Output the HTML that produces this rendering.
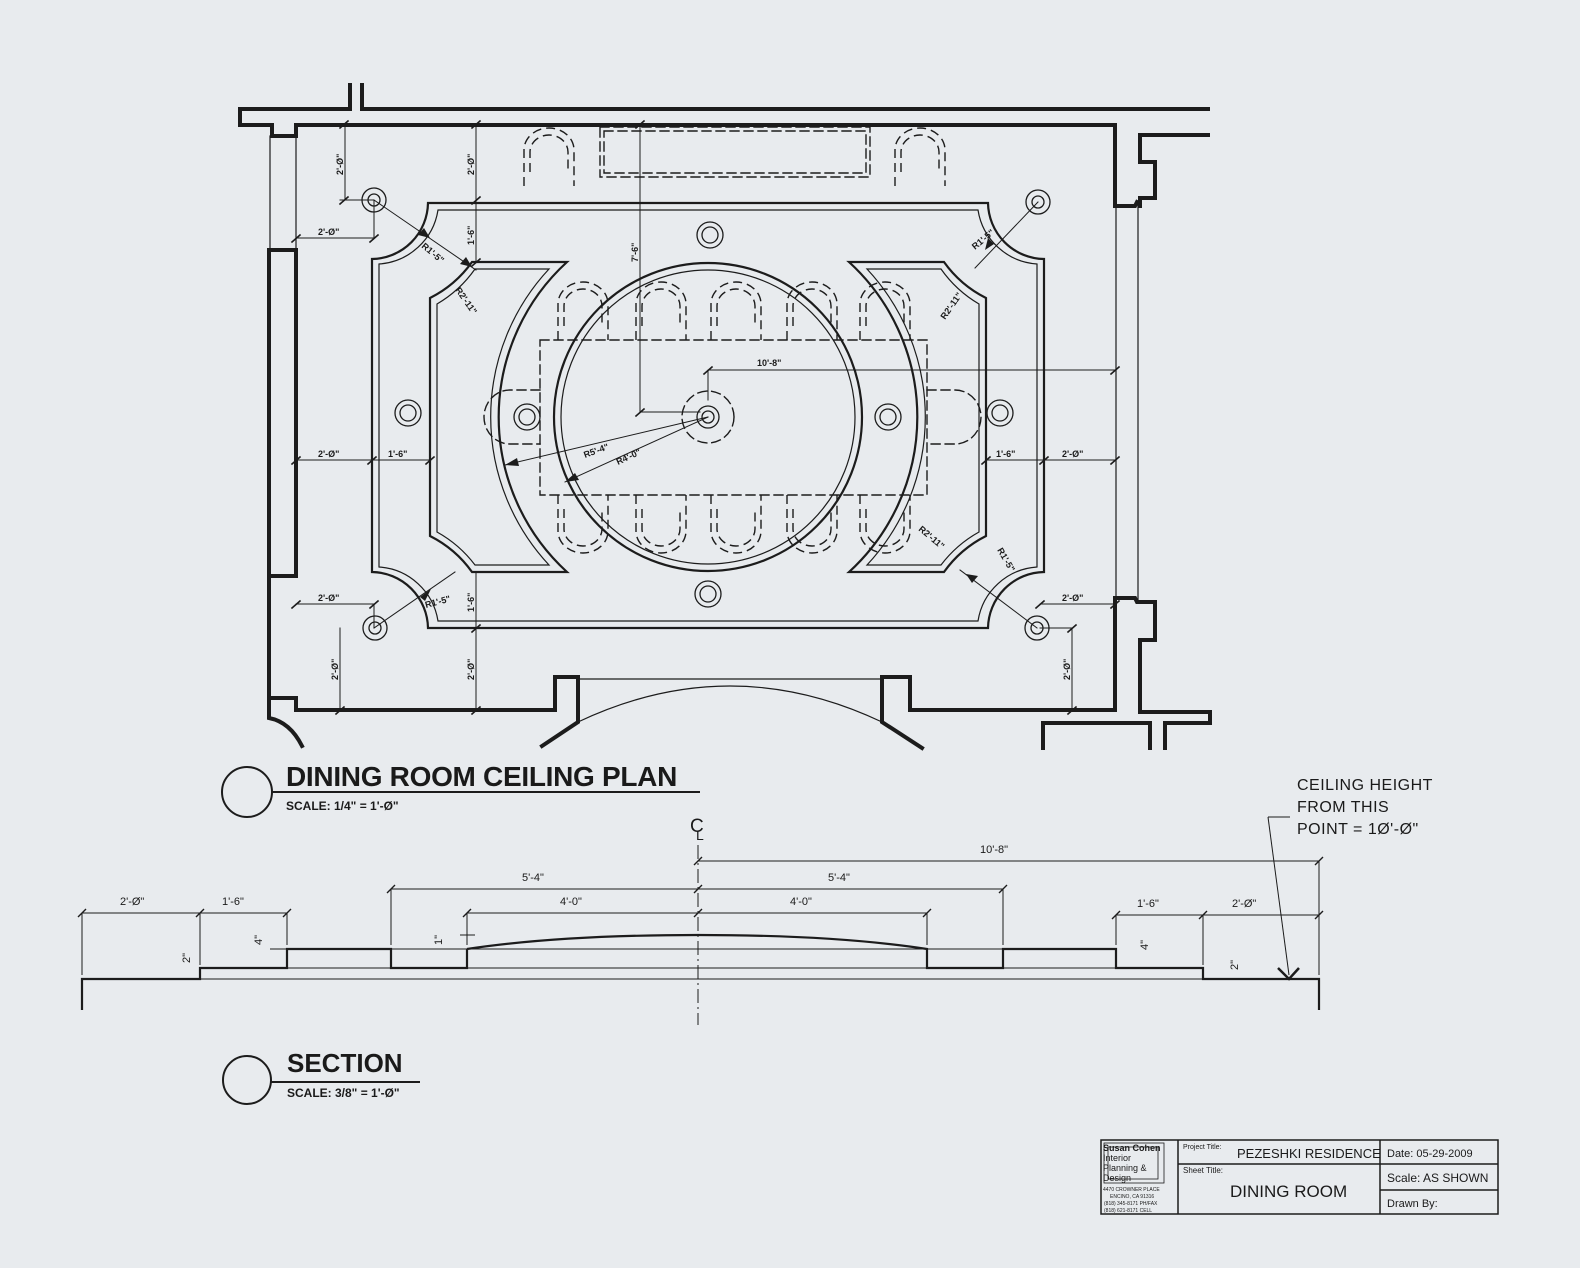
<!DOCTYPE html>
<html><head><meta charset="utf-8"><style>
html,body{margin:0;padding:0;background:#e8ebee;}
svg{display:block;}
text{font-family:"Liberation Sans",sans-serif;fill:#1a1a1a;}
.d{font-size:9px;font-weight:bold;}
</style></head><body>
<svg width="1580" height="1268" viewBox="0 0 1580 1268" xmlns="http://www.w3.org/2000/svg">
<defs>
<g id="chairT" fill="none" stroke="#1c1c1c" stroke-width="1.4" stroke-dasharray="9,5">
<path d="M-25,58 L-25,22 A25,22 0 0 1 25,22 L25,58"/>
<path d="M-19,44 L-19,24 A19,17 0 0 1 19,24 L19,44"/>
</g>
</defs>
<rect width="1580" height="1268" fill="#e8ebee"/>
<g fill="none" stroke="#1c1c1c" stroke-linecap="square">
<g stroke-width="4">
<polyline points="240,109 350,109 350,85"/>
<polyline points="362,85 362,109 1208,109"/>
<polyline points="240,109 240,125 272,125 272,136 296,136 296,125 1115,125 1115,206 1135,206 1137,202"/>
<polyline points="1208,135 1140,135 1140,162 1155,162 1155,198 1140,198 1140,206"/>
<rect x="269" y="250" width="27" height="326"/>
<polyline points="1115,708 1115,598 1135,598 1137,602 1155,602 1155,640 1140,640 1140,712 1210,712 1210,720"/>
<polyline points="1043,748 1043,723 1150,723 1150,748"/>
<polyline points="1165,748 1165,723 1210,723"/>
<polyline points="269,576 269,698 296,698 296,710 555,710 555,677 578,677 578,722 542,746"/>
<polyline points="1115,710 910,710 910,677 882,677 882,722 922,748"/>
<path d="M269,700 L269,718 Q290,722 302,746"/>
</g>
<g stroke-width="1.2">
<line x1="270" y1="136" x2="270" y2="250"/><line x1="296" y1="136" x2="296" y2="250"/>
<line x1="1116" y1="206" x2="1116" y2="598"/><line x1="1138" y1="202" x2="1138" y2="600"/>
<line x1="578" y1="679" x2="882" y2="679"/>
<path d="M578,722 Q730,650 882,722"/>
</g>
<g stroke-width="2.2">
<path d="M428,203 L988,203 A57,57 0 0 0 1044,259 L1044,572 A57,57 0 0 0 988,628 L428,628 A57,57 0 0 0 372,572 L372,259 A57,57 0 0 0 428,203 Z"/>
<g id="cres">
<path d="M430,298 A115,115 0 0 0 472,262 L567,262 A210,210 0 0 0 567,572 L472,572 A115,115 0 0 0 430,536 Z"/>
</g>
<use href="#cres" transform="translate(1416,0) scale(-1,1)"/>
<circle cx="708" cy="417" r="154"/>
</g>
<g stroke-width="1.2">
<path d="M438,210 L978,210 A64,64 0 0 0 1037,264 L1037,567 A64,64 0 0 0 978,621 L438,621 A64,64 0 0 0 379,567 L379,264 A64,64 0 0 0 438,210 Z"/>
<g id="cres2"><path d="M437,304 A122,122 0 0 0 475,269 L549,269 A217,217 0 0 0 549,565 L475,565 A122,122 0 0 0 437,532 Z"/></g>
<use href="#cres2" transform="translate(1416,0) scale(-1,1)"/>
<circle cx="708" cy="417" r="147"/>
</g>
<g stroke-width="1.4" stroke-dasharray="9,5">
<rect x="540" y="340" width="387" height="155"/>
<rect x="600" y="127" width="270" height="50"/>
<rect x="604" y="131" width="262" height="42"/>
<path d="M540,390 L510,390 A26,27 0 0 0 510,444 L540,444"/>
<path d="M927,390 L955,390 A26,27 0 0 1 955,444 L927,444"/>
<circle cx="708" cy="417" r="26"/>
</g>
<g stroke-width="1.3">
<circle cx="710" cy="235" r="13"/><circle cx="710" cy="235" r="8"/>
<circle cx="708" cy="594" r="13"/><circle cx="708" cy="594" r="8"/>
<circle cx="408" cy="413" r="13"/><circle cx="408" cy="413" r="8"/>
<circle cx="1000" cy="413" r="13"/><circle cx="1000" cy="413" r="8"/>
<circle cx="527" cy="417" r="13"/><circle cx="527" cy="417" r="8"/>
<circle cx="888" cy="417" r="13"/><circle cx="888" cy="417" r="8"/>
<circle cx="708" cy="417" r="11"/><circle cx="708" cy="417" r="6"/>
<circle cx="374" cy="200" r="12"/><circle cx="374" cy="200" r="6"/>
<circle cx="1038" cy="202" r="12"/><circle cx="1038" cy="202" r="6"/>
<circle cx="375" cy="628" r="12"/><circle cx="375" cy="628" r="6"/>
<circle cx="1037" cy="628" r="12"/><circle cx="1037" cy="628" r="6"/>
</g>
<g stroke-width="1">
<line x1="345" y1="125" x2="345" y2="200"/><line x1="340" y1="200" x2="374" y2="200"/>
<line x1="476" y1="125" x2="476" y2="262"/>
<line x1="640" y1="125" x2="640" y2="412"/><line x1="640" y1="412" x2="700" y2="412"/>
<line x1="296" y1="238" x2="374" y2="238"/><line x1="374" y1="200" x2="374" y2="238"/>
<line x1="708" y1="370" x2="1115" y2="370"/><line x1="708" y1="370" x2="708" y2="400"/>
<line x1="296" y1="460" x2="430" y2="460"/><line x1="986" y1="460" x2="1115" y2="460"/>
<line x1="296" y1="604" x2="374" y2="604"/><line x1="374" y1="604" x2="374" y2="628"/>
<line x1="340" y1="628" x2="340" y2="710"/><line x1="476" y1="572" x2="476" y2="710"/>
<line x1="1040" y1="604" x2="1115" y2="604"/><line x1="1040" y1="628" x2="1072" y2="628"/><line x1="1072" y1="628" x2="1072" y2="710"/>
<line x1="374" y1="200" x2="476" y2="270"/><line x1="374" y1="628" x2="455" y2="572"/>
<line x1="1038" y1="202" x2="975" y2="268"/><line x1="1037" y1="628" x2="960" y2="570"/>
<line x1="708" y1="417" x2="505" y2="465"/><line x1="708" y1="417" x2="565" y2="482"/>
</g>
<g stroke-width="1.6">
<path d="M340,128 l8,-7 M472,128 l8,-7 M636,128 l8,-7 M340,204 l8,-7 M472,204 l8,-7 M472,266 l8,-7 M636,416 l8,-7 M292,242 l8,-7 M370,242 l8,-7 M704,374 l8,-7 M1111,374 l8,-7 M292,464 l8,-7 M368,464 l8,-7 M426,464 l8,-7 M982,464 l8,-7 M1040,464 l8,-7 M1111,464 l8,-7 M292,608 l8,-7 M370,608 l8,-7 M336,714 l8,-7 M472,714 l8,-7 M472,632 l8,-7 M1036,608 l8,-7 M1111,608 l8,-7 M1068,632 l8,-7 M1068,714 l8,-7"/>
</g>
</g>
<use href="#chairT" x="583" y="282"/><use href="#chairT" x="661" y="282"/><use href="#chairT" x="736" y="282"/><use href="#chairT" x="812" y="282"/><use href="#chairT" x="885" y="282"/>
<g transform="translate(0,1035) scale(1,-1)">
<use href="#chairT" x="583" y="482"/><use href="#chairT" x="661" y="482"/><use href="#chairT" x="736" y="482"/><use href="#chairT" x="812" y="482"/><use href="#chairT" x="885" y="482"/>
</g>
<use href="#chairT" x="549" y="128"/><use href="#chairT" x="920" y="128"/>
<!-- arrowheads on radius leaders -->
<g fill="#1c1c1c">
<polygon points="430,238 418,235 424,228"/>
<polygon points="472,267 460,264 466,257"/>
<polygon points="431,589 420,597 425,601"/>
<polygon points="985,250 988,238 994,244"/>
<polygon points="966,574 978,576 972,583"/>
<polygon points="505,465 517,458 519,466"/>
<polygon points="565,482 575,473 579,480"/>
</g>
<g class="d">
<text transform="translate(343,175) rotate(-90)">2'-Ø"</text>
<text transform="translate(474,175) rotate(-90)">2'-Ø"</text>
<text transform="translate(474,245) rotate(-90)">1'-6"</text>
<text transform="translate(638,262) rotate(-90)">7'-6"</text>
<text x="318" y="235">2'-Ø"</text>
<text transform="translate(421,247) rotate(40)">R1'-5"</text>
<text transform="translate(455,290) rotate(55)">R2'-11"</text>
<text x="757" y="366">10'-8"</text>
<text transform="translate(585,458) rotate(-20)">R5'-4"</text>
<text transform="translate(618,465) rotate(-25)">R4'-0"</text>
<text x="318" y="457">2'-Ø"</text><text x="388" y="457">1'-6"</text>
<text x="996" y="457">1'-6"</text><text x="1062" y="457">2'-Ø"</text>
<text x="318" y="601">2'-Ø"</text>
<text transform="translate(426,608) rotate(-15)">R1'-5"</text>
<text transform="translate(474,612) rotate(-90)">1'-6"</text>
<text transform="translate(338,680) rotate(-90)">2'-Ø"</text>
<text transform="translate(474,680) rotate(-90)">2'-Ø"</text>
<text transform="translate(975,250) rotate(-40)">R1'-5"</text>
<text transform="translate(945,320) rotate(-55)">R2'-11"</text>
<text transform="translate(918,530) rotate(40)">R2'-11"</text>
<text transform="translate(997,550) rotate(60)">R1'-5"</text>
<text x="1062" y="601">2'-Ø"</text>
<text transform="translate(1070,680) rotate(-90)">2'-Ø"</text>
</g>
<circle cx="247" cy="792" r="25" fill="none" stroke="#1c1c1c" stroke-width="2"/>
<line x1="272" y1="792" x2="700" y2="792" stroke="#1c1c1c" stroke-width="2"/>
<text x="286" y="786" style="font-size:28px;font-weight:bold;letter-spacing:-0.3px">DINING ROOM CEILING PLAN</text>
<text x="286" y="810" style="font-size:12px;font-weight:bold;">SCALE: 1/4" = 1'-Ø"</text>
<g fill="none" stroke="#1c1c1c">
<polyline stroke-width="2.2" points="82,1010 82,979 200,979 200,968 287,968 287,949 391,949 391,968 467,968 467,949"/>
<path stroke-width="2.2" d="M467,949 Q560,935 698,935 Q836,935 927,949 L927,968 1003,968 1003,949 1116,949 1116,968 1203,968 1203,979 1319,979 1319,1010"/>
<g stroke-width="1">
<line x1="200" y1="979" x2="1203" y2="979"/><line x1="287" y1="968" x2="1116" y2="968"/>
<line x1="391" y1="949" x2="1003" y2="949"/>
<line x1="698" y1="845" x2="698" y2="1025" stroke-dasharray="14,4,2,4"/>
<line x1="82" y1="913" x2="287" y2="913"/><line x1="82" y1="913" x2="82" y2="975"/><line x1="200" y1="913" x2="200" y2="965"/><line x1="287" y1="913" x2="287" y2="945"/>
<line x1="391" y1="889" x2="1003" y2="889"/><line x1="391" y1="889" x2="391" y2="945"/><line x1="1003" y1="889" x2="1003" y2="945"/>
<line x1="467" y1="913" x2="927" y2="913"/><line x1="467" y1="913" x2="467" y2="945"/><line x1="927" y1="913" x2="927" y2="945"/>
<line x1="698" y1="861" x2="1319" y2="861"/><line x1="1319" y1="861" x2="1319" y2="975"/>
<line x1="1116" y1="915" x2="1319" y2="915"/><line x1="1116" y1="915" x2="1116" y2="945"/><line x1="1203" y1="915" x2="1203" y2="965"/>
<line x1="1268" y1="817" x2="1290" y2="817"/><line x1="1268" y1="817" x2="1289" y2="975"/>
<line x1="270" y1="949" x2="300" y2="949"/><line x1="460" y1="935" x2="475" y2="935"/>
</g>
<path stroke-width="2.5" d="M1278,968 L1289,979 L1299,968"/>
<path stroke-width="1.4" d="M78,917 l8,-8 M196,917 l8,-8 M283,917 l8,-8 M387,893 l8,-8 M999,893 l8,-8 M463,917 l8,-8 M923,917 l8,-8 M694,917 l8,-8 M694,893 l8,-8 M694,865 l8,-8 M1315,865 l8,-8 M1112,919 l8,-8 M1199,919 l8,-8 M1315,919 l8,-8"/>
</g>
<g class="d" style="font-size:11px;font-weight:normal">
<text x="120" y="905">2'-Ø"</text><text x="222" y="905">1'-6"</text>
<text x="522" y="881">5'-4"</text><text x="828" y="881">5'-4"</text>
<text x="560" y="905">4'-0"</text><text x="790" y="905">4'-0"</text>
<text x="980" y="853">10'-8"</text>
<text x="1137" y="907">1'-6"</text><text x="1232" y="907">2'-Ø"</text>
<text transform="translate(190,963) rotate(-90)">2"</text>
<text transform="translate(262,945) rotate(-90)">4"</text>
<text transform="translate(442,945) rotate(-90)">1"</text>
<text transform="translate(1148,950) rotate(-90)">4"</text>
<text transform="translate(1238,970) rotate(-90)">2"</text>
</g>
<text x="690" y="832" style="font-size:19px">C</text><text x="696" y="840" style="font-size:14px">L</text>
<g style="font-size:16px;letter-spacing:0.5px">
<text x="1297" y="790">CEILING HEIGHT</text>
<text x="1297" y="812">FROM THIS</text>
<text x="1297" y="834">POINT = 1Ø'-Ø"</text>
</g>
<circle cx="247" cy="1080" r="24" fill="none" stroke="#1c1c1c" stroke-width="2"/>
<line x1="271" y1="1082" x2="420" y2="1082" stroke="#1c1c1c" stroke-width="2"/>
<text x="287" y="1072" style="font-size:26px;font-weight:bold">SECTION</text>
<text x="287" y="1097" style="font-size:12px;font-weight:bold;">SCALE: 3/8" = 1'-Ø"</text>
<g fill="none" stroke="#1c1c1c" stroke-width="1.5">
<rect x="1101" y="1140" width="397" height="74"/>
<line x1="1178" y1="1140" x2="1178" y2="1214"/>
<line x1="1380" y1="1140" x2="1380" y2="1214"/>
<line x1="1178" y1="1164" x2="1380" y2="1164"/>
<line x1="1380" y1="1164" x2="1498" y2="1164"/>
<line x1="1380" y1="1190" x2="1498" y2="1190"/>
<rect x="1104" y="1143" width="60" height="40" stroke-width="0.8"/>
<rect x="1108" y="1147" width="50" height="32" stroke-width="0.8"/>
</g>
<g style="font-size:9px">
<text x="1103" y="1151" style="font-weight:bold">Susan Cohen</text>
<text x="1103" y="1161">Interior</text><text x="1103" y="1171">Planning &amp;</text><text x="1103" y="1181">Design</text>
<text x="1103" y="1191" style="font-size:5px">4470 CROWNER PLACE</text>
<text x="1110" y="1198" style="font-size:5px">ENCINO, CA 91316</text>
<text x="1104" y="1205" style="font-size:5px">(818) 345-8171 PH/FAX</text>
<text x="1104" y="1212" style="font-size:5px">(818) 621-8171 CELL</text>
<text x="1183" y="1149" style="font-size:7px">Project Title:</text>
<text x="1183" y="1173" style="font-size:8px">Sheet Title:</text>
</g>
<text x="1237" y="1158" style="font-size:13px">PEZESHKI  RESIDENCE</text>
<text x="1230" y="1197" style="font-size:17px">DINING ROOM</text>
<text x="1387" y="1157" style="font-size:11px">Date:   05-29-2009</text>
<text x="1387" y="1182" style="font-size:12px">Scale:  AS SHOWN</text>
<text x="1387" y="1207" style="font-size:11px">Drawn By:</text>
</svg>
</body></html>
